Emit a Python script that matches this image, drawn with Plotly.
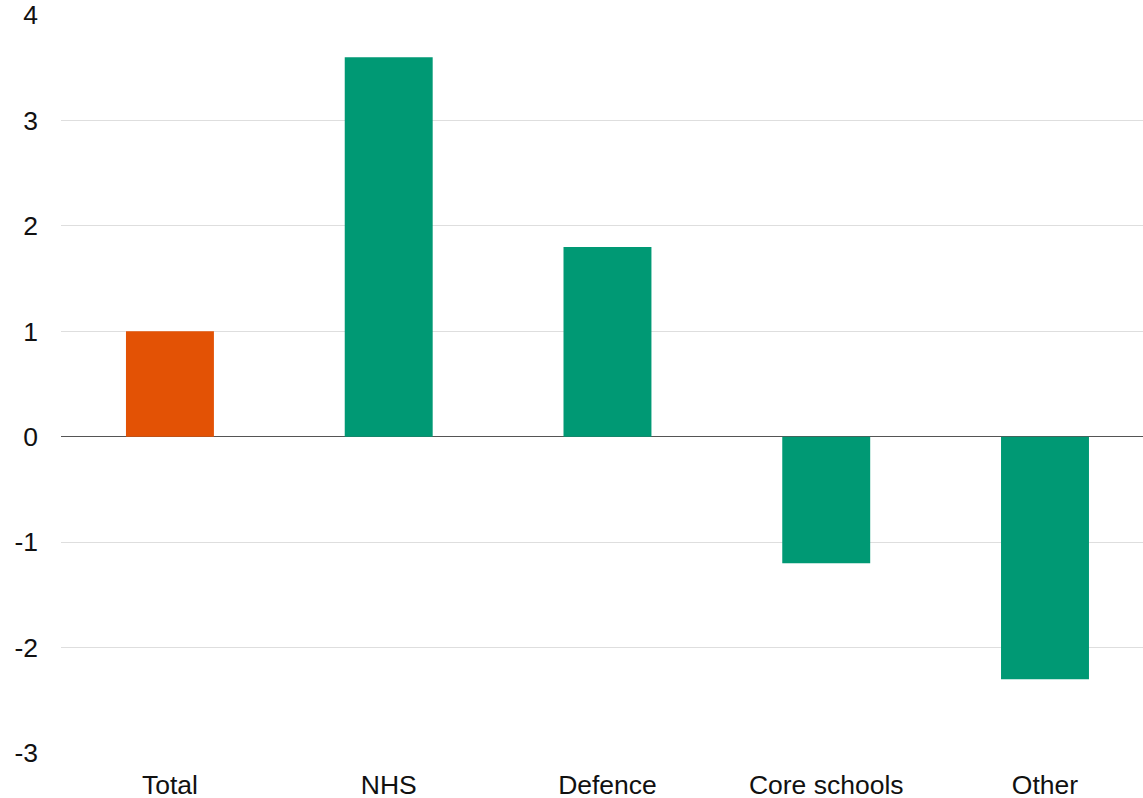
import plotly.graph_objects as go

# Change in spending by area
categories = ["Total", "NHS", "Defence", "Core schools", "Other"]
values = [1.0, 3.6, 1.8, -1.2, -2.3]
bar_colors = ["#E35205", "#009974", "#009974", "#009974", "#009974"]
y_ticks = [-3, -2, -1, 0, 1, 2, 3, 4]
y_tick_labels = ["-3", "-2", "-1", "0", "1", "2", "3", "4"]

fig = go.Figure(
    go.Bar(
        x=list(range(len(categories))),
        y=values,
        marker=dict(color=bar_colors, line=dict(width=0)),
        width=0.402,
    )
)

fig.update_layout(
    width=1143,
    height=798,
    margin=dict(l=61, r=0, t=15, b=45),
    plot_bgcolor="white",
    paper_bgcolor="white",
    showlegend=False,
    font=dict(family="Liberation Sans, Arial, sans-serif", size=26.5, color="#111111"),
)

fig.update_xaxes(
    tickmode="array",
    tickvals=list(range(len(categories))),
    ticktext=categories,
    range=[-0.498, 4.448],
    showgrid=False,
    showline=False,
    zeroline=False,
    ticks="",
    ticklabelstandoff=13,
    automargin=False,
)

fig.update_yaxes(
    range=[-3, 4],
    tickmode="array",
    tickvals=y_ticks,
    ticktext=y_tick_labels,
    showgrid=True,
    gridcolor="#dedede",
    gridwidth=1,
    zeroline=True,
    zerolinecolor="#555555",
    zerolinewidth=1,
    showline=False,
    ticks="",
    ticklabelstandoff=22,
    automargin=False,
)

fig.write_html("out.html")
